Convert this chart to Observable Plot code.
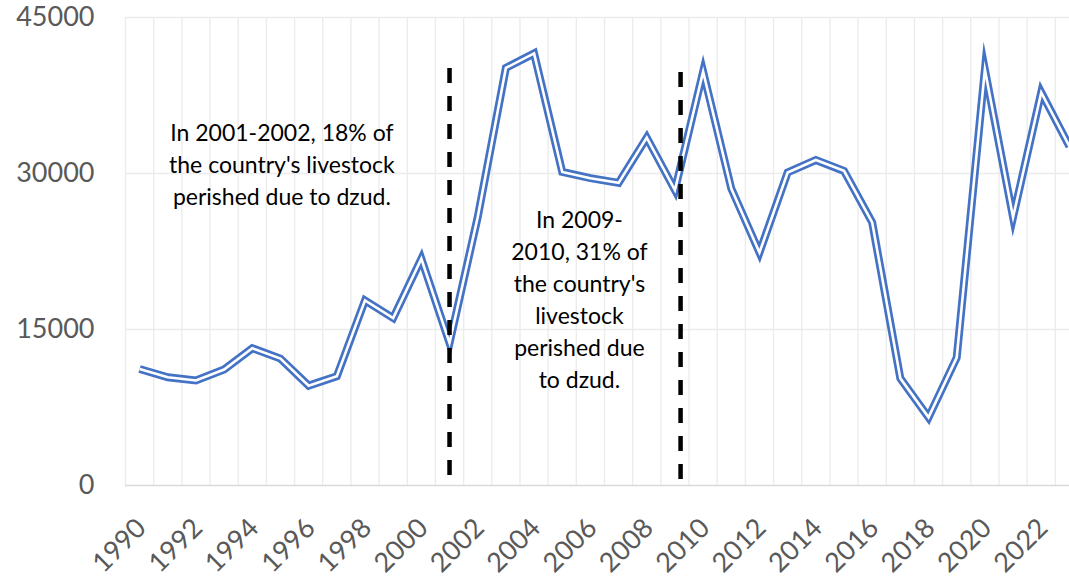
<!DOCTYPE html>
<html><head><meta charset="utf-8">
<script src="https://cdn.jsdelivr.net/npm/d3@7"></script>
<script src="https://cdn.jsdelivr.net/npm/@observablehq/plot@0.6"></script>
<style>
html,body{margin:0;padding:0;overflow:hidden;background:#fff;}
#chart{width:1069px;height:577px;overflow:hidden;}
#chart svg{max-width:none !important;width:1084px !important;height:577px !important;}
</style></head><body><div id="chart"></div>
<script>
const years = [1990,1991,1992,1993,1994,1995,1996,1997,1998,1999,2000,2001,2002,2003,2004,2005,2006,2007,2008,2009,2010,2011,2012,2013,2014,2015,2016,2017,2018,2019,2020,2021,2022,2023];
const values = [11200,10400,10100,11150,13200,12200,9600,10500,17800,16100,21800,13700,25800,40150,41550,30150,29550,29100,33450,28400,39800,28550,22400,30100,31300,30250,25300,10300,6550,12300,40000,25800,37800,32600];
const xTickYears = [1990,1992,1994,1996,1998,2000,2002,2004,2006,2008,2010,2012,2014,2016,2018,2020,2022];
const yTicks = [0,15000,30000,45000];
const yGrid = [15000,30000,45000];
const categoryEdges = [1989.5,1990.5,1991.5,1992.5,1993.5,1994.5,1995.5,1996.5,1997.5,1998.5,1999.5,2000.5,2001.5,2002.5,2003.5,2004.5,2005.5,2006.5,2007.5,2008.5,2009.5,2010.5,2011.5,2012.5,2013.5,2014.5,2015.5,2016.5,2017.5,2018.5,2019.5,2020.5,2021.5,2022.5];
const dzudX = [2001, 2009.2];
const dzudTop = [40100, 39700];
const dzudBottom = [950, 580];
const noteX = [1995.05, 2005.61];
const noteY = [35320, 26950];
const noteText = [
  "In 2001-2002, 18% of\nthe country's livestock\nperished due to dzud.",
  "In 2009-\n2010, 31% of\nthe country's\nlivestock\nperished due\nto dzud."
];

const series = years.map((y, i) => ({year: y, value: values[i]}));
const dzud = dzudX.map((x, i) => ({x, y1: dzudTop[i], y2: dzudBottom[i]}));
const notes = noteX.map((x, i) => ({x, y: noteY[i], text: noteText[i]}));

const chart = Plot.plot({
  width: 1084, height: 577,
  marginLeft: 125, marginRight: 1, marginTop: 17, marginBottom: 92,
  style: {fontFamily: "Lato", background: "white", maxWidth: "none"},
  x: {domain: [1989.5, 2023.5]},
  y: {domain: [0, 45000]},
  marks: [
    Plot.ruleX(categoryEdges, {y1: 0, y2: 45000, stroke: "#ececec", strokeWidth: 1.4}),
    Plot.ruleY(yGrid, {stroke: "#ececec", strokeWidth: 1.4}),
    Plot.ruleY([0], {stroke: "#d9d9d9", strokeWidth: 1.5}),
    Plot.axisY({ticks: yTicks, tickSize: 0, tickPadding: 31, fontSize: 27, fill: "#595959", tickFormat: "d", label: null}),
    Plot.axisX({ticks: xTickYears, tickSize: 0, tickPadding: 38, tickRotate: -45, textAnchor: "end", lineAnchor: "middle", dx: 2, fontSize: 27, fill: "#595959", tickFormat: "d", label: null}),
    Plot.line(series, {x: "year", y: "value", stroke: "#4472c4", strokeWidth: 8, strokeLinejoin: "miter", strokeMiterlimit: 20, strokeLinecap: "butt"}),
    Plot.line(series, {x: "year", y: "value", stroke: "white", strokeWidth: 2.6, strokeLinejoin: "miter", strokeMiterlimit: 20, strokeLinecap: "butt"}),
    Plot.ruleX(dzud, {x: "x", y1: "y1", y2: "y2", stroke: "black", strokeWidth: 4.5, strokeDasharray: "15,13"}),
    Plot.text(notes, {x: "x", y: "y", text: "text", fontSize: 23, fill: "black", lineAnchor: "top", lineHeight: 1.39, textAnchor: "middle"})
  ]
});
document.getElementById("chart").appendChild(chart);
</script></body></html>
